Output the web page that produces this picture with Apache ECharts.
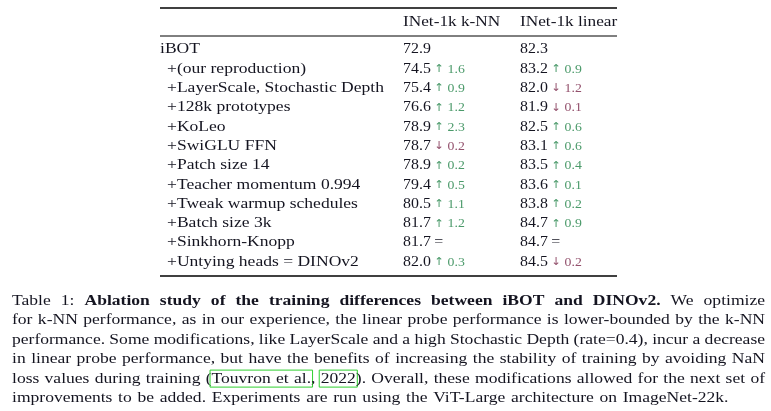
<!DOCTYPE html>
<html><head><meta charset="utf-8">
<script src="https://cdn.jsdelivr.net/npm/echarts@6/dist/echarts.min.js"></script>
<style>html,body{margin:0;padding:0;background:#fff}#c{width:771px;height:411px}</style>
</head><body><div id="c"></div>
<script>
// ---------------- data ----------------
const headers = ['INet-1k k-NN', 'INet-1k linear'];
const rowLabels = [
  'iBOT',
  '+(our reproduction)',
  '+LayerScale, Stochastic Depth',
  '+128k prototypes',
  '+KoLeo',
  '+SwiGLU FFN',
  '+Patch size 14',
  '+Teacher momentum 0.994',
  '+Tweak warmup schedules',
  '+Batch size 3k',
  '+Sinkhorn-Knopp',
  '+Untying heads = DINOv2'
];
const knnValues    = [72.9, 74.5, 75.4, 76.6, 78.9, 78.7, 78.9, 79.4, 80.5, 81.7, 81.7, 82.0];
const knnDeltas    = [null, 1.6, 0.9, 1.2, 2.3, -0.2, 0.2, 0.5, 1.1, 1.2, 0, 0.3];
const linearValues = [82.3, 83.2, 82.0, 81.9, 82.5, 83.1, 83.5, 83.6, 83.8, 84.7, 84.7, 84.5];
const linearDeltas = [null, 0.9, -1.2, -0.1, 0.6, 0.6, 0.4, 0.1, 0.2, 0.9, 0, -0.2];
const captionLines = [
  'Table 1: *Ablation study of the training differences between iBOT and DINOv2.* We optimize',
  'for k-NN performance, as in our experience, the linear probe performance is lower-bounded by the k-NN',
  'performance. Some modifications, like LayerScale and a high Stochastic Depth (rate=0.4), incur a decrease',
  'in linear probe performance, but have the benefits of increasing the stability of training by avoiding NaN',
  'loss values during training ([Touvron et al.], [2022]). Overall, these modifications allowed for the next set of',
  'improvements to be added. Experiments are run using the ViT-Large architecture on ImageNet-22k.'
];

// ---------------- style / layout ----------------
const FAMILY = '"Liberation Serif", "DejaVu Serif", serif';
const FS = 15;
const SX = 1.17;       // horizontal stretch to mimic Computer Modern proportions
const SX_HEAD = 1.15;
const SX_NUM = 1.06;
const TXT = '#141420';
const UP = '#4b9a6a';
const DOWN = '#93506c';
const TABLE = { left: 160, width: 457, top: 39.85, rowH: 19.3, indent: 7, colKnn: 243, colLin: 360,
                topRule: 8, midRule: 36, botRule: 276, headerY: 22 };
const CAP = { left: 12, width: 753, top: 301, lh: 19.4 };

function fontStr(bold, size) { return (bold ? 'bold ' : '') + (size || FS) + 'px ' + FAMILY; }

function deltaRich(d) {
  if (d === null) return '';
  if (d === 0) return ' {eq|=}';
  return d > 0 ? ' {ua|\u2191}{up| ' + d.toFixed(1) + '}' : ' {da|\u2193}{dn| ' + Math.abs(d).toFixed(1) + '}';
}
const ARROW_FONT = '11px "DejaVu Sans", sans-serif';
const rich = {
  v:  { font: fontStr(false), fill: TXT, lineHeight: 18 },
  eq: { font: fontStr(false), fill: TXT, lineHeight: 18 },
  ua: { font: ARROW_FONT, fill: UP, lineHeight: 18, padding: [1, 0, 0, 0] },
  da: { font: ARROW_FONT, fill: DOWN, lineHeight: 18, padding: [1, 0, 0, 0] },
  up: { font: fontStr(false, 13), fill: UP, lineHeight: 18, padding: [1, 0, 0, 0] },
  dn: { font: fontStr(false, 13), fill: DOWN, lineHeight: 18, padding: [1, 0, 0, 0] }
};

// ---------------- caption layout (justified) ----------------
function buildCaption() {
  const els = [];
  const ctx = document.createElement('canvas').getContext('2d');
  let bold = false;
  captionLines.forEach((line, li) => {
    const y = CAP.top + li * CAP.lh;
    const words = line.split(' ').map(tok => {
      const pieces = []; const marks = []; let cur = '';
      for (const ch of tok) {
        if (ch === '*' || ch === '[' || ch === ']') {
          if (cur) { pieces.push({ t: cur, b: bold }); cur = ''; }
          if (ch === '*') bold = !bold; else marks.push({ type: ch, at: pieces.length });
        } else cur += ch;
      }
      if (cur) pieces.push({ t: cur, b: bold });
      let w = 0;
      pieces.forEach(p => { ctx.font = fontStr(p.b); p.w = ctx.measureText(p.t).width * SX; w += p.w; });
      return { pieces, marks, w };
    });
    ctx.font = fontStr(false);
    const space = ctx.measureText(' ').width * SX;
    const total = words.reduce((s, w) => s + w.w, 0);
    const last = li === captionLines.length - 1;
    const gap = last ? space * 1.3 : (CAP.width - total) / (words.length - 1);
    let x = CAP.left;
    let linkStart = 0;
    const handle = (m, px) => {
      if (m.type === '[') linkStart = px;
      else els.push({ type: 'rect', silent: true,
        shape: { x: linkStart - 1.5, y: y - 8.5, width: px - linkStart + 3, height: 17 },
        style: { fill: 'none', stroke: '#2fd02f', lineWidth: 1 } });
    };
    words.forEach(w => {
      let px = x;
      w.pieces.forEach((p, k) => {
        w.marks.filter(m => m.at === k).forEach(m => handle(m, px));
        els.push({ type: 'text', silent: true, x: px, y: y, scaleX: SX,
          style: { text: p.t, font: fontStr(p.b), fill: TXT, align: 'left', verticalAlign: 'middle' } });
        px += p.w;
      });
      w.marks.filter(m => m.at === w.pieces.length).forEach(m => handle(m, px));
      x += w.w + gap;
    });
  });
  return els;
}

// ---------------- table rules & header ----------------
function rule(y, lw) {
  return { type: 'line', silent: true,
    shape: { x1: TABLE.left, y1: y, x2: TABLE.left + TABLE.width, y2: y },
    style: { stroke: '#000', lineWidth: lw } };
}
const graphics = [
  rule(TABLE.topRule, 1.4), rule(TABLE.midRule, 1), rule(TABLE.botRule, 1.4),
  { type: 'text', silent: true, x: TABLE.left + TABLE.colKnn, y: TABLE.headerY, scaleX: SX_HEAD,
    style: { text: headers[0], font: fontStr(false), fill: TXT, verticalAlign: 'middle' } },
  { type: 'text', silent: true, x: TABLE.left + TABLE.colLin, y: TABLE.headerY, scaleX: SX_HEAD,
    style: { text: headers[1], font: fontStr(false), fill: TXT, verticalAlign: 'middle' } }
].concat(buildCaption());

const chart = echarts.init(document.getElementById('c'));
chart.setOption({
  animation: false,
  backgroundColor: '#fff',
  grid: { left: TABLE.left, width: TABLE.width, top: TABLE.top, height: TABLE.rowH * rowLabels.length },
  xAxis: { type: 'value', min: 0, max: TABLE.width, show: false },
  yAxis: { type: 'category', data: rowLabels, inverse: true, show: false },
  graphic: graphics,
  series: [{
    type: 'custom',
    data: rowLabels.map((_, i) => [0, i]),
    encode: { x: 0, y: 1 },
    renderItem: function (params, api) {
      const i = api.value(1);
      const p = api.coord([0, i]);
      const lab = rowLabels[i];
      return { type: 'group', children: [
        { type: 'text', x: p[0] + (lab.charAt(0) === '+' ? TABLE.indent : 0), y: p[1], scaleX: SX,
          style: { text: lab, font: fontStr(false), fill: TXT, verticalAlign: 'middle' } },
        { type: 'text', x: p[0] + TABLE.colKnn, y: p[1], scaleX: SX_NUM,
          style: { text: '{v|' + knnValues[i].toFixed(1) + '}' + deltaRich(knnDeltas[i]), rich: rich, verticalAlign: 'middle' } },
        { type: 'text', x: p[0] + TABLE.colLin, y: p[1], scaleX: SX_NUM,
          style: { text: '{v|' + linearValues[i].toFixed(1) + '}' + deltaRich(linearDeltas[i]), rich: rich, verticalAlign: 'middle' } }
      ] };
    }
  }]
});
</script>
</body></html>
